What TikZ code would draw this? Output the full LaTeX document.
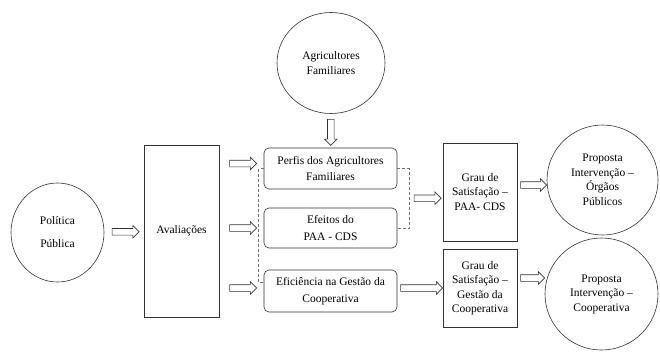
\documentclass[tikz,border=0pt]{standalone}
\usepackage{fontspec}
\setmainfont{Liberation Serif}
\usetikzlibrary{shapes.geometric,shapes.arrows,calc}
\begin{document}
\begin{tikzpicture}[x=1pt,y=-1pt,
  every node/.style={font=\fontsize{11.5}{14.5}\selectfont, align=center, inner sep=0pt},
  circ/.style={draw=black!80, ellipse, line width=0.6pt},
  rbox/.style={draw=black!80, rounded corners=5pt, minimum width=133pt, minimum height=41pt, line width=0.6pt, font=\fontsize{11.5}{16.5}\selectfont},
  sbox/.style={draw=black!80, line width=0.6pt},
  harrow/.style={single arrow, draw=black!80, line width=0.6pt, single arrow head extend=3pt, single arrow head indent=0pt, minimum height=#1, inner xsep=0pt, inner ysep=3pt},
  link/.style={densely dashed, line width=0.5pt, black!55}]
\useasboundingbox (0,0) rectangle (660,351);

\node[circ, minimum width=108pt, minimum height=101pt] (agri) at (331,63) {Agricultores\\Familiares};
\node[circ, minimum width=93pt, minimum height=99pt, font=\fontsize{11.5}{23}\selectfont] (pol) at (57.5,232.5) {Política\\Pública};
\node[sbox, minimum width=75pt, minimum height=172pt] (ava) at (181.5,231) {Avaliações};
\node[rbox] (perf) at (330.5,168.5) {Perfis dos Agricultores\\Familiares};
\node[rbox, minimum height=40pt] (efe) at (330.5,228) {Efeitos do\\PAA - CDS};
\node[rbox, minimum height=42pt] (efi) at (330.5,291) {Eficiência na Gestão da\\Cooperativa};
\node[sbox, minimum width=74pt, minimum height=98pt] (g1) at (480,192) {Grau de\\Satisfação –\\PAA- CDS};
\node[sbox, minimum width=74pt, minimum height=78pt] (g2) at (480,288) {Grau de\\Satisfação –\\Gestão da\\Cooperativa};
\node[circ, minimum width=111pt, minimum height=110pt] (p1) at (602.5,180) {Proposta\\Intervenção –\\Órgãos\\Públicos};
\node[circ, minimum width=113pt, minimum height=112pt] (p2) at (601.5,294) {Proposta\\Intervenção –\\Cooperativa};

% dashed brackets
\draw[link] (perf.west) -- ++(-5,0) |- ($(efi.west)+(0,-9)$);
\draw[link] (perf.east) -- ++(12,0) coordinate (rb1) |- (efe.east);
\coordinate (rb) at ($(rb1)!0.5!(rb1 |- efe.east)$);

% hollow arrows
\path (agri.south) -- (perf.north) node[midway, harrow=26pt, rotate=-90] {};
\path (pol.east) -- (ava.west) node[midway, harrow=27pt] {};
\coordinate (t1) at ($(perf.west)+(0,-5)$);
\path (ava.east |- t1) -- (t1) node[midway, harrow=27pt] {};
\path (ava.east |- efe.west) -- (efe.west) node[midway, harrow=27pt] {};
\coordinate (t3) at ($(efi.west)+(0,-3)$);
\path (ava.east |- t3) -- (t3) node[midway, harrow=27pt] {};
\path (rb) -- (g1.west |- rb) node[midway, harrow=27pt] {};
\path (efi.east |- g2.west) -- (g2.west) node[midway, harrow=42pt] {};
\coordinate (s1) at ($(g1.east)+(0,-7)$);
\path (s1) -- (p1.west |- s1) node[midway, harrow=26pt] {};
\coordinate (s2) at ($(g2.east)+(0,-10)$);
\path (s2) -- (p2.west |- s2) node[midway, harrow=24pt] {};
\end{tikzpicture}
\end{document}
